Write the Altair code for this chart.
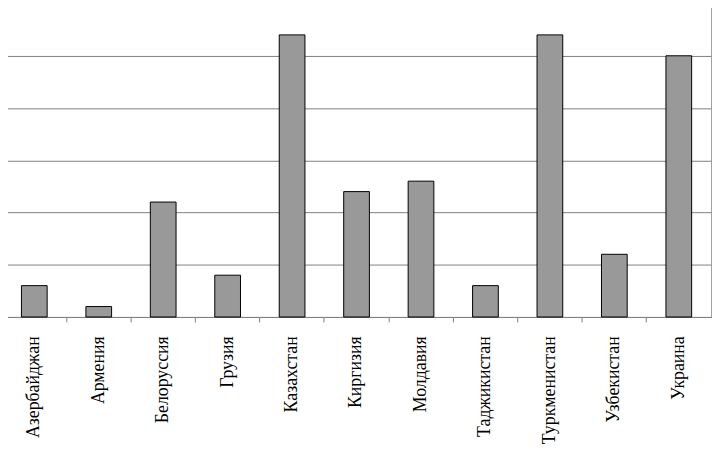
import altair as alt
import pandas as pd

countries = ["Азербайджан", "Армения", "Белоруссия", "Грузия", "Казахстан",
             "Киргизия", "Молдавия", "Таджикистан", "Туркменистан", "Узбекистан", "Украина"]
values = [0.6, 0.2, 2.2, 0.8, 5.4, 2.4, 2.6, 0.6, 5.4, 1.2, 5.0]

df = pd.DataFrame({"country": countries, "value": values})

chart = alt.Chart(df).mark_bar(
    color="#999999", stroke="#000000", strokeWidth=1, size=26
).encode(
    x=alt.X("country:N", sort=countries, title=None,
            scale=alt.Scale(paddingInner=0, paddingOuter=0),
            axis=alt.Axis(labelAngle=-90, labelFont="Liberation Serif", labelFontSize=18,
                          labelColor="#000000", labelPadding=14, tickSize=5, tickColor="#808080",
                          domainColor="#808080", bandPosition=0, grid=False, labelBaseline="middle",
                          labelLimit=200)),
    y=alt.Y("value:Q", title=None, scale=alt.Scale(domain=[0, 6], nice=False),
            axis=alt.Axis(labels=False, ticks=False, tickCount=6, grid=True, gridColor="#808080",
                          domainColor="#404040"))
).properties(
    width=717, height=317,
    padding={"left": -7, "top": -7, "right": 2, "bottom": 0}
).configure_view(stroke="#a0a0a0")

chart.save("out.html", embed_options={"renderer": "svg", "actions": False})
